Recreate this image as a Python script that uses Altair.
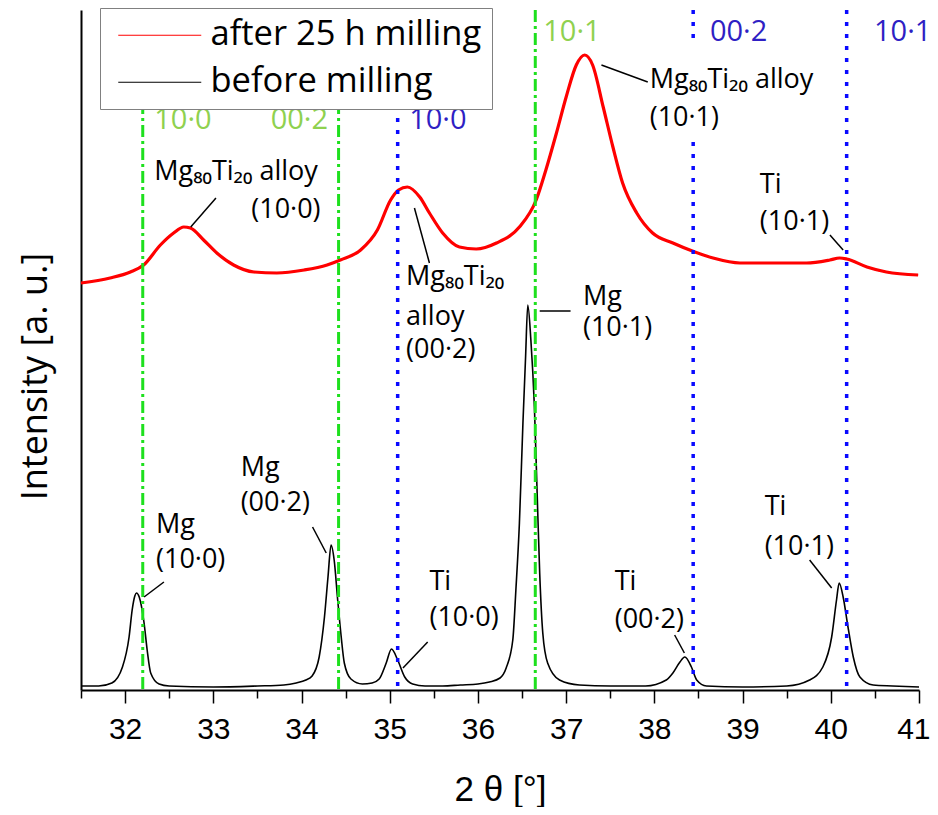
import altair as alt
import pandas as pd

after_label = "after 25 h milling"
before_label = "before milling"

# ---- diffraction patterns (2theta in deg, intensity in a.u.) ----
before_theta = [31.50, 31.70, 31.85, 31.97, 32.045, 32.08, 32.11, 32.128, 32.16, 32.215, 32.25, 32.29,
                32.385, 32.50, 33.00, 33.50, 33.80, 33.94, 34.05, 34.12, 34.20, 34.26, 34.30, 34.335,
                34.37, 34.41, 34.45, 34.485, 34.56, 34.69, 34.80, 34.88, 34.96, 35.02, 35.09, 35.17,
                35.26, 35.40, 35.60, 35.80, 36.00, 36.13, 36.25, 36.32, 36.395, 36.43, 36.47, 36.51,
                36.54, 36.565, 36.60, 36.64, 36.67, 36.70, 36.735, 36.79, 36.925, 37.15, 37.50, 37.90,
                38.135, 38.21, 38.29, 38.345, 38.42, 38.48, 38.59, 39.00, 39.50, 39.76, 39.91, 40.01,
                40.065, 40.095, 40.14, 40.195, 40.255, 40.33, 40.48, 40.70, 41.00]
before_intensity = [4, 4, 7, 23, 53, 80, 94, 97, 93, 67, 40, 17,
                    6, 4, 3, 4, 5, 7, 10, 14, 33, 73, 113, 145,
                    130, 90, 53, 27, 11, 6, 7, 11, 27, 41, 30, 13,
                    6, 4, 4, 5, 6, 8, 12, 22, 50, 100, 167, 267,
                    333, 385, 350, 283, 200, 117, 57, 27, 10, 5, 4, 4,
                    10, 17, 28, 33, 23, 10, 4, 3, 4, 10, 23, 53,
                    90, 107, 93, 63, 33, 13, 5, 4, 3]

after_theta = [31.50, 31.83, 32.06, 32.21, 32.40, 32.55, 32.665, 32.74, 32.89, 33.04, 33.23, 33.46,
               33.72, 34.03, 34.29, 34.44, 34.67, 34.86, 35.01, 35.10, 35.20, 35.34, 35.45, 35.60,
               35.79, 35.98, 36.21, 36.47, 36.66, 36.77, 36.89, 37.00, 37.115, 37.21, 37.30, 37.42,
               37.53, 37.64, 37.80, 37.98, 38.21, 38.46, 38.665, 38.97, 39.35, 39.725, 39.99, 40.10,
               40.18, 40.41, 40.63, 40.99]
after_intensity = [407, 412, 418, 425, 445, 457, 463, 462, 450, 437, 425, 418,
                   417, 420, 425, 430, 440, 460, 490, 500, 503, 493, 477, 457,
                   443, 441, 447, 463, 490, 520, 557, 593, 625, 635, 625, 583,
                   543, 507, 477, 457, 447, 438, 432, 427, 427, 427, 430, 432,
                   431, 423, 418, 415]

# ---- reference positions (Mg green, Ti blue) ----
mg_ref = [32.20, 34.42, 36.65]
ti_ref = [35.09, 38.44, 40.18]

mg_label_text = ["10·0", "00·2", "10·1"]
mg_label_x = [32.33, 33.65, 36.74]
mg_label_y = [570, 570, 658]
ti_label_text = ["10·0", "00·2", "10·1"]
ti_label_x = [35.22, 38.63, 40.49]
ti_label_y = [570, 658, 658]

# ---- peak annotations ----
ann_text = ["Mg₈₀Ti₂₀ alloy", "(10·0)", "Mg₈₀Ti₂₀", "alloy", "(00·2)",
            "Mg₈₀Ti₂₀ alloy", "(10·1)", "Ti", "(10·1)", "Mg", "(10·1)",
            "Mg", "(10·0)", "Mg", "(00·2)", "Ti", "(10·0)", "Ti", "(00·2)", "Ti", "(10·1)"]
ann_x = [32.33, 33.43, 35.185, 35.185, 35.185,
         37.947, 37.947, 39.196, 39.196, 37.19, 37.19,
         32.35, 32.35, 33.31, 33.31, 35.45, 35.45, 37.55, 37.55, 39.25, 39.25]
ann_y = [518, 480, 413, 373, 340,
         610, 572, 505, 468, 393, 362,
         165, 130, 222, 187, 108, 72, 108, 70, 183, 143]

lead_x1 = [33.03, 35.28, 37.40, 39.99, 36.70, 32.44, 34.125, 35.43, 38.23, 39.76]
lead_y1 = [492, 482, 625, 455, 379, 108, 163, 48, 55, 130]
lead_x2 = [32.744, 35.45, 37.925, 40.14, 37.05, 32.215, 34.28, 35.15, 38.34, 40.01]
lead_y2 = [463, 427, 608, 440, 379, 93, 137, 22, 37, 102]

box_x = [37.80, 39.97]
box_y = [550, 645]

major_ticks = [32, 33, 34, 35, 36, 37, 38, 39, 40, 41]
minor_ticks = [31.5, 32.5, 33.5, 34.5, 35.5, 36.5, 37.5, 38.5, 39.5, 40.5]

# ---- tables ----
curve_df = pd.concat([
    pd.DataFrame({"theta": after_theta, "intensity": after_intensity, "series": after_label}),
    pd.DataFrame({"theta": before_theta, "intensity": before_intensity, "series": before_label}),
])
after_df = pd.DataFrame({"theta": after_theta, "intensity": after_intensity})
mg_df = pd.DataFrame({"theta": mg_ref})
ti_df = pd.DataFrame({"theta": ti_ref})
mg_lab = pd.DataFrame({"theta": mg_label_x, "intensity": mg_label_y, "text": mg_label_text})
ti_lab = pd.DataFrame({"theta": ti_label_x, "intensity": ti_label_y, "text": ti_label_text})
ann_df = pd.DataFrame({"theta": ann_x, "intensity": ann_y, "text": ann_text})
lead_df = pd.DataFrame({"theta": lead_x1, "intensity": lead_y1, "theta2": lead_x2, "intensity2": lead_y2})
box_df = pd.DataFrame({"theta": [box_x[0]], "theta2": [box_x[1]], "intensity": [box_y[0]], "intensity2": [box_y[1]]})

xs = alt.Scale(domain=[31.5, 41], nice=False, zero=False)
ys = alt.Scale(domain=[0, 680], nice=False, zero=False)

x_axis_major = alt.Axis(
    orient="bottom", title="2 θ [°]", values=major_ticks, grid=False, format="d",
    labelOverlap=False, labelFlush=1, labelFlushOffset=11,
    tickSize=13, tickColor="black", tickWidth=1.5, domainColor="black", domainWidth=2,
    labelFont="Liberation Sans", labelFontSize=30, labelColor="black", labelPadding=11,
    titleFont="Liberation Sans", titleFontSize=35, titleFontWeight="normal", titleColor="black",
    titleY=99, titleBaseline="middle",
)
x_axis_minor = alt.Axis(
    orient="bottom", title=None, values=minor_ticks, grid=False, labels=False, domain=False,
    tickSize=8, tickColor="black", tickWidth=1.5,
)
y_axis = alt.Axis(
    title="Intensity [a. u.]", labels=False, ticks=False, grid=False,
    domainColor="black", domainWidth=2,
    titleFont="Open Sans", titleFontSize=36, titleFontWeight="normal", titleColor="black",
    titleX=-46, titleY=366, titleAlign="center", titleBaseline="middle", titleAngle=270,
)

X = alt.X("theta:Q", scale=xs, axis=None)
Y = alt.Y("intensity:Q", scale=ys, axis=y_axis)

legend = alt.Legend(
    title=None, orient="none", legendX=19, legendY=-2,
    symbolType="M-1,0H7.3", symbolSize=400, symbolStrokeWidth=1.2, symbolOffset=1,
    labelOffset=65, labelFont="Open Sans", labelFontSize=34.5, labelColor="black", labelLimit=500,
    strokeColor="#808080", fillColor="white", padding=10, rowPadding=12,
)

curves = alt.Chart(curve_df).mark_line(interpolate="monotone", strokeWidth=1.6).encode(
    x=alt.X("theta:Q", scale=xs, axis=x_axis_major), y=Y,
    color=alt.Color("series:N", scale=alt.Scale(domain=[after_label, before_label],
                                                range=["#ff0000", "#000000"]), legend=legend),
)
red_thick = alt.Chart(after_df).mark_line(interpolate="monotone", strokeWidth=3.2, color="#ff0000").encode(
    x=alt.X("theta:Q", scale=xs, axis=x_axis_minor), y=Y)

mg_rules = alt.Chart(mg_df).mark_rule(color="#1ee01e", strokeWidth=3, strokeDash=[12, 4, 3, 4]).encode(x=X)
ti_rules = alt.Chart(ti_df).mark_rule(color="#0a0aff", strokeWidth=3.5, strokeDash=[4, 8]).encode(x=X)

box = alt.Chart(box_df).mark_rect(fill="white").encode(x=X, x2="theta2:Q", y=Y, y2="intensity2:Q")

mg_text = alt.Chart(mg_lab).mark_text(align="left", baseline="middle", font="Open Sans",
                                      fontSize=29, color="#8fd14f").encode(x=X, y=Y, text="text:N")
ti_text = alt.Chart(ti_lab).mark_text(align="left", baseline="middle", font="Open Sans",
                                      fontSize=29, color="#2f1fc4").encode(x=X, y=Y, text="text:N")

ann = alt.Chart(ann_df).mark_text(align="left", baseline="middle", font="Open Sans",
                                  fontSize=27, color="black").encode(x=X, y=Y, text="text:N")

leads = alt.Chart(lead_df).mark_rule(color="black", strokeWidth=1.5).encode(
    x=X, x2="theta2:Q", y=Y, y2="intensity2:Q")

chart = alt.layer(red_thick, curves, mg_rules, ti_rules, box, mg_text, ti_text, ann, leads).resolve_axis(
    x="independent"
).properties(
    width=838, height=680,
    autosize=alt.AutoSizeParams(type="none"),
    padding={"left": 73, "top": 2, "right": 11, "bottom": 117},
    background="white",
).configure_view(stroke=None)

chart.save("out.html", embed_options={"renderer": "svg", "actions": False})
